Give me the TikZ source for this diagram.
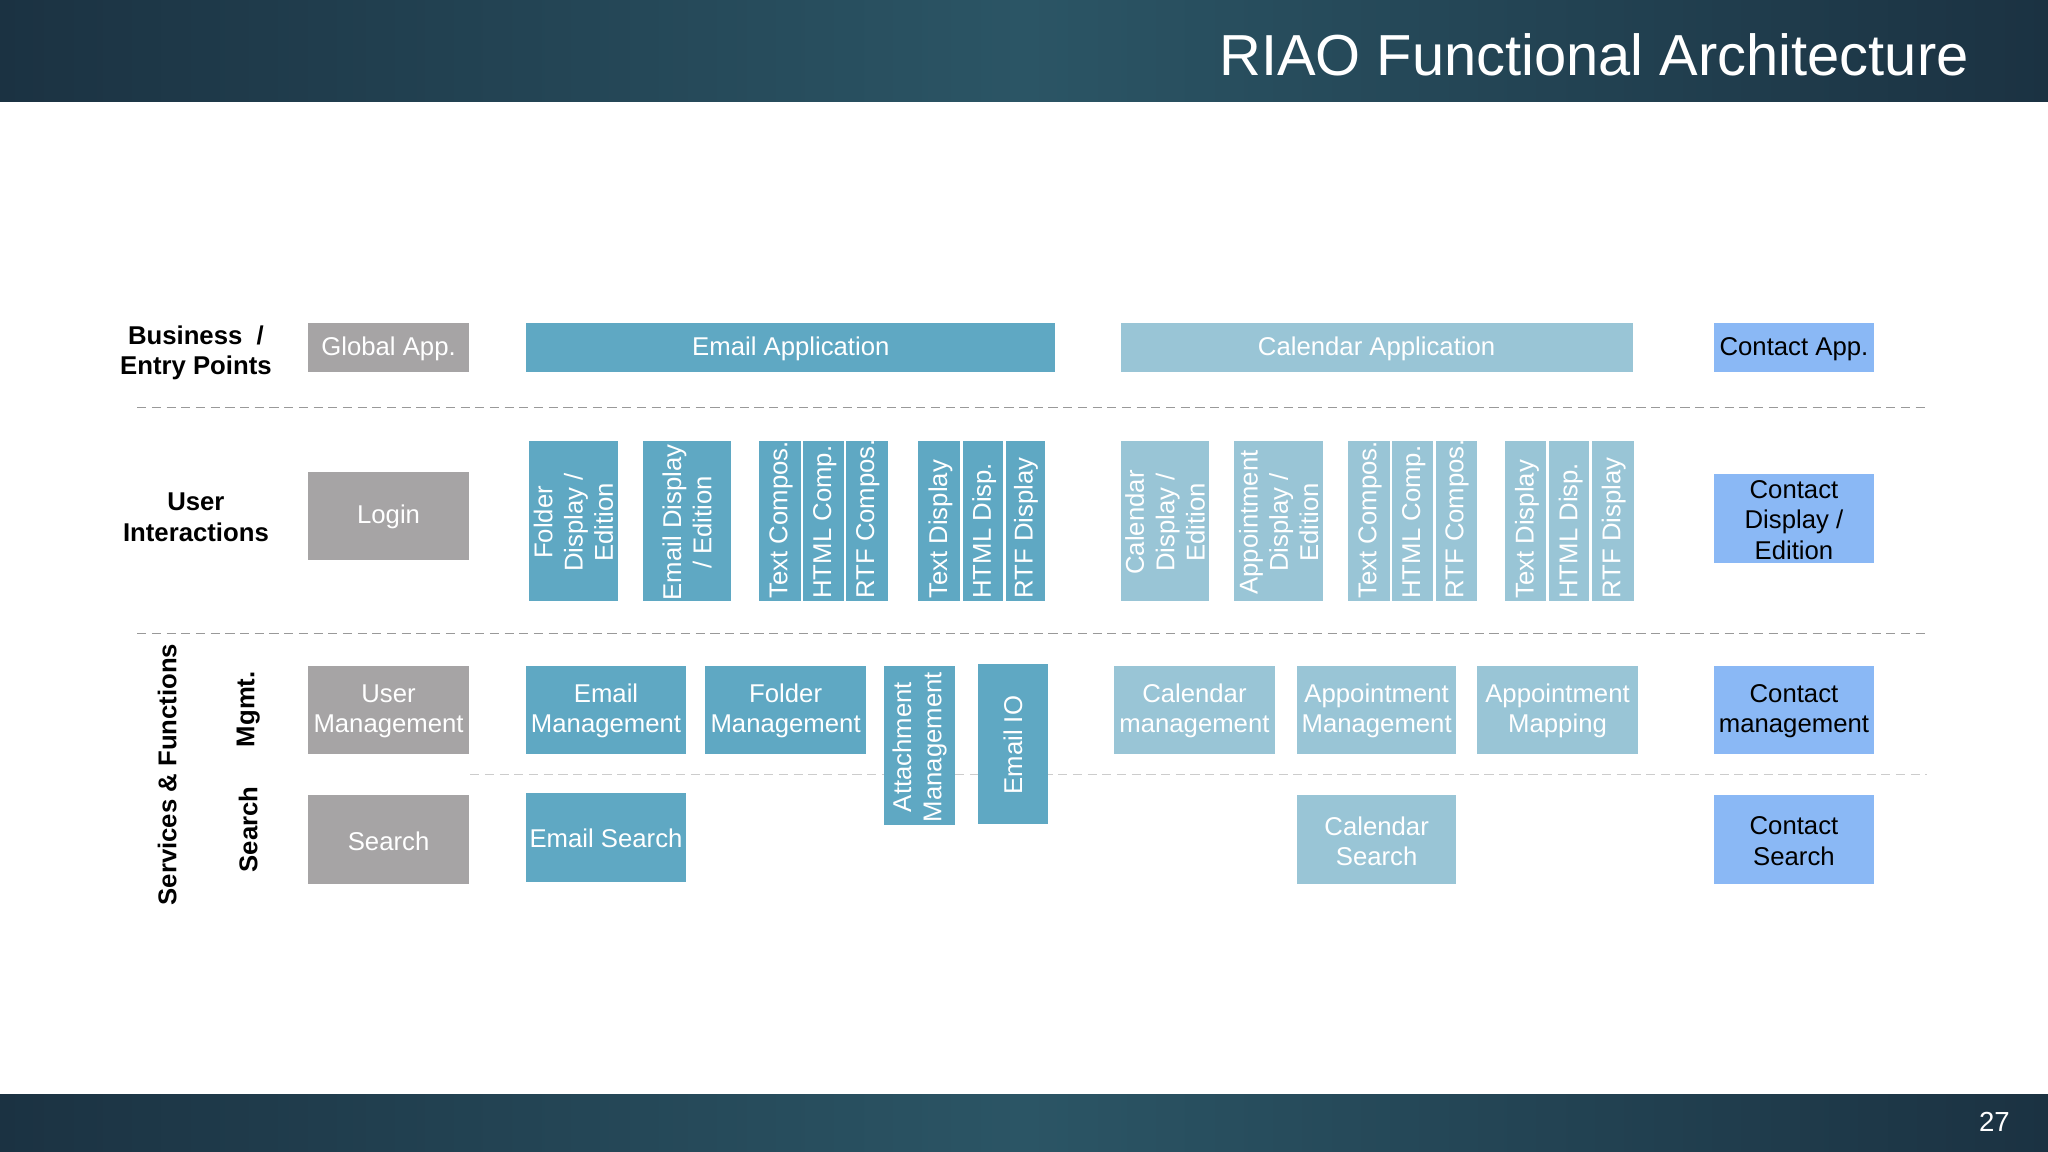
\documentclass[tikz,border=0pt]{standalone}
\usepackage{fontspec}
\setmainfont{Liberation Sans}
\usetikzlibrary{positioning}
\definecolor{mail}{HTML}{5FA8C3}
\definecolor{cal}{HTML}{99C5D6}
\definecolor{cont}{HTML}{8AB8F5}
\definecolor{glob}{HTML}{A6A4A5}
\definecolor{barA}{HTML}{1B3242}
\definecolor{barB}{HTML}{2B5565}
\tikzset{
  lbl/.style={font=\fontsize{5.6}{6.6}\selectfont, align=center, text=white, inner sep=0pt},
  side/.style={font=\fontsize{5.6}{6.6}\selectfont\bfseries, align=center, inner sep=0pt},
  sep/.style={dash pattern=on 2pt off 1.2pt, gray!80, line width=0.4pt}
}
% block: [label opts]{name}{x1}{y1}{x2}{y2}{fill}{text}
\newcommand\blk[8][]{%
  \fill[#7] (#3,#4) rectangle (#5,#6);
  \node[lbl,#1] (#2) at ({(#3+#5)/2},{(#4+#6)/2+1}) {#8};}
% stacked column with text from the bottom
\newcommand\col[5]{%
  \fill[#4] (#2,338) rectangle (#3,460);
  \draw[white, line width=0.6pt] (#2,338) -- (#2,460);
  \node[lbl, rotate=90, anchor=west] (#1) at ({(#2+#3)/2+1},{459}) {#5};}
\begin{document}
\begin{tikzpicture}[x=0.01cm, y=-0.01cm]
\useasboundingbox (0,0) rectangle (1568,882);
\shade[left color=barA, right color=barB] (0,0) rectangle (784,78);
\shade[left color=barB, right color=barA] (784,0) rectangle (1568,78);
\shade[left color=barA, right color=barB] (0,838) rectangle (784,882);
\shade[left color=barB, right color=barA] (784,838) rectangle (1568,882);
\node[anchor=east, text=white, font=\fontsize{12.6}{14}\selectfont, inner sep=0pt] (title) at (1508,42) {RIAO Functional Architecture};
\node[text=white, font=\fontsize{6}{7}\selectfont, inner sep=0pt] (page) at (1527,859) {27};

% side labels
\node[side] (business) at (150,270) {Business\ \ /\\Entry Points};
\node[side] (user) at (150,396) {User\\Interactions};
\node[side, rotate=90] (services) at (128,593) {Services \& Functions};
\node[side, rotate=90] (mgmt) at (190,543) {Mgmt.};
\node[side, rotate=90] (search) at (190,635) {Search};

% separators
\draw[sep] (105,312) -- (1475,312);
\draw[sep] (105,485) -- (1475,485);
\draw[sep, gray!40] (360,593) -- (1475,593);

% business row
\blk{globalapp}{236}{247}{359}{285}{glob}{Global App.}
\blk{emailapp}{403}{247}{808}{285}{mail}{Email Application}
\blk{calapp}{858}{247}{1250}{285}{cal}{Calendar Application}
\blk[text=black]{contactapp}{1312}{247}{1435}{285}{cont}{Contact App.}

% user interactions
\blk{login}{236}{361}{359}{429}{glob}{Login}
\blk[rotate=90]{folderdisp}{405}{338}{473}{460}{mail}{Folder\\Display /\\Edition}
\blk[rotate=90]{maildisp}{492}{338}{560}{460}{mail}{Email Display\\/ Edition}
\col{mtc}{580}{614}{mail}{Text Compos.}
\col{mhc}{614}{647}{mail}{HTML Comp.}
\col{mrc}{647}{680}{mail}{RTF Compos.}
\col{mtd}{702}{736}{mail}{Text Display}
\col{mhd}{736}{769}{mail}{HTML Disp.}
\col{mrd}{769}{800}{mail}{RTF Display}
\blk[rotate=90]{caldisp}{858}{338}{926}{460}{cal}{Calendar\\Display /\\Edition}
\blk[rotate=90]{appdisp}{945}{338}{1013}{460}{cal}{Appointment\\Display /\\Edition}
\col{ctc}{1031}{1065}{cal}{Text Compos.}
\col{chc}{1065}{1098}{cal}{HTML Comp.}
\col{crc}{1098}{1131}{cal}{RTF Compos.}
\col{ctd}{1151}{1185}{cal}{Text Display}
\col{chd}{1185}{1218}{cal}{HTML Disp.}
\col{crd}{1218}{1251}{cal}{RTF Display}
\blk[text=black]{contactdisp}{1312}{363}{1435}{431}{cont}{Contact\\Display /\\Edition}

% management
\blk{usermgmt}{236}{510}{359}{577}{glob}{User\\Management}
\blk{emailmgmt}{403}{510}{525}{577}{mail}{Email\\Management}
\blk{foldermgmt}{540}{510}{663}{577}{mail}{Folder\\Management}
\blk[rotate=90]{attmgmt}{677}{510}{731}{632}{mail}{Attachment\\Management}
\blk[rotate=90]{emailio}{749}{508}{802}{631}{mail}{Email IO}
\blk{calmgmt}{853}{510}{976}{577}{cal}{Calendar\\management}
\blk{appmgmt}{993}{510}{1115}{577}{cal}{Appointment\\Management}
\blk{appmap}{1131}{510}{1254}{577}{cal}{Appointment\\Mapping}
\blk[text=black]{contactmgmt}{1312}{510}{1435}{577}{cont}{Contact\\management}

% search
\blk{searchbox}{236}{609}{359}{677}{glob}{Search}
\blk{emailsearch}{403}{607}{525}{675}{mail}{Email Search}
\blk{calsearch}{993}{609}{1115}{677}{cal}{Calendar\\Search}
\blk[text=black]{contactsearch}{1312}{609}{1435}{677}{cont}{Contact\\Search}
\end{tikzpicture}
\end{document}
